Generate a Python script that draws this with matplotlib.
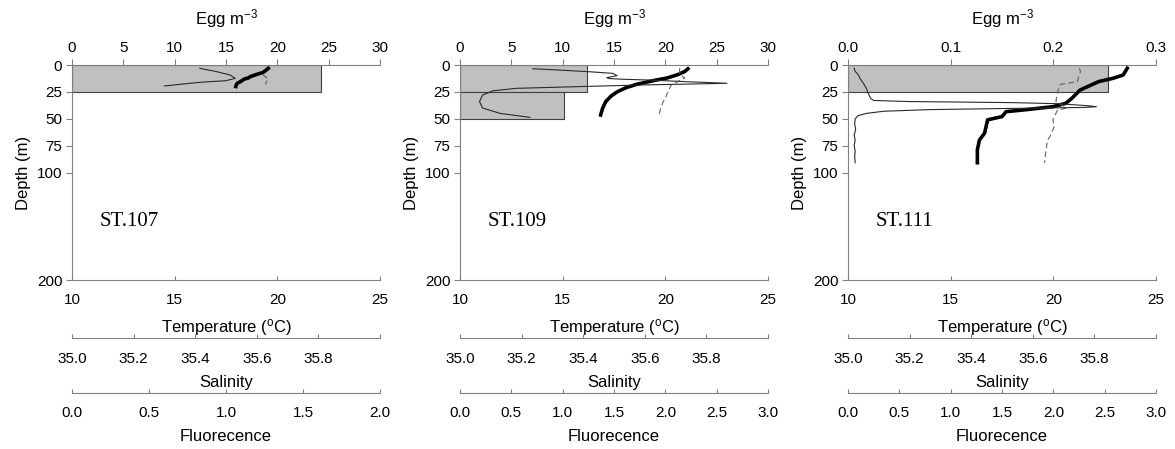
import matplotlib
matplotlib.use("Agg")
import matplotlib.pyplot as plt

plt.rcParams['font.family'] = ['Liberation Sans', 'DejaVu Sans']
plt.rcParams['mathtext.default'] = 'regular'

# ---- data (depth in m) ----
stations = ["ST.107", "ST.109", "ST.111"]

# egg density per 25 m net layer
egg_top = [[0], [0, 25], [0]]
egg_val = [[24.3], [12.4, 10.1], [0.253]]
egg_max = [30, 30, 0.3]
egg_ticks = [[0, 5, 10, 15, 20, 25, 30], [0, 5, 10, 15, 20, 25, 30], [0.0, 0.1, 0.2, 0.3]]
fluor_max = [2.0, 3.0, 3.0]

# ST.107
t107_d = [3.1, 5.6, 7.0, 8.7, 10.9, 12.0, 13, 15.5, 17, 18.5, 20]
t107_v = [19.56, 19.4, 19.3, 19.0, 18.67, 18.6, 18.4, 18.2, 18.05, 18.0, 17.98]
s107_d = [9, 11, 13, 15, 17, 18]
s107_v = [35.62, 35.628, 35.637, 35.632, 35.629, 35.63]
f107_d = [3.1, 6.2, 9.3, 12.4, 14.6, 16.1, 19.5]
f107_v = [0.83, 0.94, 1.026, 1.06, 1.0, 0.83, 0.60]

# ST.109
t109_d = [3.5, 6, 9, 12, 15, 18, 21, 25, 29, 34, 40, 46.5]
t109_v = [21.1, 20.95, 20.6, 20.1, 19.3, 18.6, 18.1, 17.65, 17.35, 17.1, 16.95, 16.85]
s109_d = [3, 6, 9, 12, 15, 18.6, 24.8, 30, 34, 40, 46.5]
s109_v = [35.713, 35.713, 35.714, 35.73, 35.71, 35.686, 35.675, 35.668, 35.66, 35.652, 35.646]
f109_d = [3.5, 4.7, 6.5, 7.8, 9.9, 11.8, 12.6, 13.3, 14, 15.5, 17, 17.6, 18.5, 20,
          21.7, 24, 28, 34, 40, 45, 48.7]
f109_v = [0.71, 0.97, 1.3, 1.49, 1.53, 1.43, 1.45, 1.6, 1.85, 2.2, 2.6, 2.3, 1.8, 1.2,
          0.55, 0.32, 0.22, 0.19, 0.22, 0.39, 0.68]

# ST.111
t111_d = [3, 9.3, 12.4, 15.5, 23.3, 31, 35.7, 38.8, 41.9, 43.4, 48, 51, 63.5, 69.8, 79, 90.9]
t111_v = [23.6, 23.4, 22.9, 22.2, 21.3, 20.9, 20.6, 19.97, 18.5, 17.7, 17.5, 16.8, 16.65,
          16.4, 16.3, 16.3]
s111_d = [3, 6, 10, 15.5, 18, 25, 34, 38, 40, 42, 45, 51, 57, 64, 70, 79, 91]
s111_v = [35.751, 35.755, 35.75, 35.745, 35.69, 35.68, 35.675, 35.70, 35.71, 35.68, 35.675,
          35.665, 35.67, 35.66, 35.648, 35.643, 35.638]
f111_d = [3, 6, 9, 13, 17, 22, 27, 31, 33, 34, 35, 36, 37, 38, 38.8, 39.5, 40.5, 41.5, 43,
          45, 47, 50, 55, 60, 65, 70, 75, 80, 85, 91]
f111_v = [0.06, 0.07, 0.10, 0.12, 0.15, 0.18, 0.20, 0.22, 0.25, 0.6, 1.6, 2.05, 2.2, 2.35,
          2.42, 2.3, 1.5, 0.8, 0.35, 0.18, 0.1, 0.07, 0.065, 0.075, 0.06, 0.07, 0.06, 0.07,
          0.065, 0.07]

temps = [(t107_d, t107_v), (t109_d, t109_v), (t111_d, t111_v)]
sals = [(s107_d, s107_v), (s109_d, s109_v), (s111_d, s111_v)]
fluors = [(f107_d, f107_v), (f109_d, f109_v), (f111_d, f111_v)]

depth_ticks = [0, 25, 50, 75, 100, 200]

# ---- figure ----
fig = plt.figure(figsize=(11.75, 4.49), dpi=100)
lefts = [72, 460, 848]
axc = '#808080'
tick_fs = 11
lab_fs = 12

for i in range(3):
    ax = fig.add_axes([lefts[i] / 1175, 1 - 280 / 449, 308 / 1175, 215 / 449])
    ax.set_ylim(200, 0)
    ax.set_xlim(0, egg_max[i])
    ax.barh([t + 12.5 for t in egg_top[i]], egg_val[i], height=25, left=0,
            color='#c0c0c0', edgecolor='#404040', linewidth=0.8, zorder=1)

    # temperature axis
    tw = ax.twiny()
    tw.set_xlim(10, 25)
    tw.set_xticks([10, 15, 20, 25])
    # salinity axis
    sw = ax.twiny()
    sw.set_xlim(35.0, 36.0)
    sw.set_xticks([35.0, 35.2, 35.4, 35.6, 35.8, 36.0])
    sw.set_xticklabels(['35.0', '35.2', '35.4', '35.6', '35.8', ''])
    # fluorescence axis
    fw = ax.twiny()
    fw.set_xlim(0, fluor_max[i])
    fticks = [k * 0.5 for k in range(int(fluor_max[i] / 0.5) + 1)]
    fw.set_xticks(fticks)
    fw.set_xticklabels(['%.1f' % v for v in fticks])

    # egg axis on top (twiny resets it, so set after)
    ax.xaxis.tick_top()
    ax.xaxis.set_label_position('top')
    ax.set_xticks(egg_ticks[i])
    if i == 2:
        ax.set_xticklabels(['%.1f' % v for v in egg_ticks[i]])
    ax.set_xlabel('Egg m$^{-3}$', fontsize=lab_fs, labelpad=12)
    ax.set_yticks(depth_ticks)
    ax.set_ylabel('Depth (m)', fontsize=lab_fs, labelpad=4)
    ax.tick_params(axis='both', labelsize=tick_fs, colors=axc, labelcolor='black',
                   length=4, width=0.8, pad=3)
    for s in ['right', 'bottom']:
        ax.spines[s].set_visible(False)
    for s in ['left', 'top']:
        ax.spines[s].set_color(axc)
        ax.spines[s].set_linewidth(0.8)
    ax.text(0.09, 0.27, stations[i], transform=ax.transAxes, fontsize=15,
            family='Liberation Serif', va='center')

    for a, off, lab in [(tw, 0, 'Temperature ($^{o}$C)'), (sw, 42, 'Salinity'),
                        (fw, 81, 'Fluorecence')]:
        a.xaxis.set_ticks_position('bottom')
        a.xaxis.set_label_position('bottom')
        for s in ['top', 'left', 'right']:
            a.spines[s].set_visible(False)
        a.spines['bottom'].set_position(('outward', off))
        a.spines['bottom'].set_color(axc)
        a.spines['bottom'].set_linewidth(0.8)
        a.tick_params(axis='x', direction='in', length=3, width=0.8, colors=axc,
                      labelcolor='black', labelsize=tick_fs, pad=9.5)
        a.set_xlabel(lab, fontsize=lab_fs, labelpad=7)
        a.set_ylim(200, 0)

    d, v = fluors[i]
    fw.plot(v, d, color='#2a2a2a', lw=0.8, zorder=3)
    d, v = sals[i]
    sw.plot(v, d, color='#606060', lw=0.8, ls=(0, (5, 3)), zorder=3)
    d, v = temps[i]
    tw.plot(v, d, color='black', lw=2.6, zorder=4)

fig.savefig('out.png', dpi=100)
